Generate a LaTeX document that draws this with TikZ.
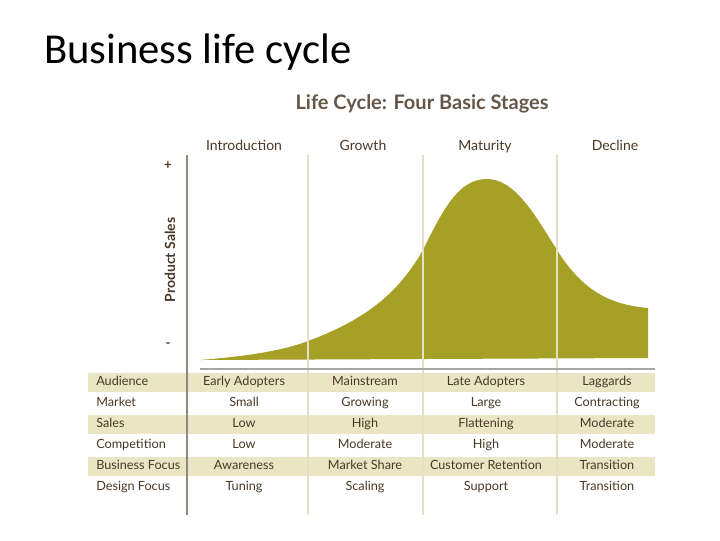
\documentclass[tikz,border=0pt]{standalone}
\usepackage{fontspec}
\setmainfont{Carlito}
\newfontfamily\gil{Lato}
\definecolor{olive}{HTML}{A6A026}
\definecolor{band}{HTML}{EAE6C4}
\definecolor{brn}{HTML}{4A3826}
\definecolor{grid}{HTML}{E4E0C8}
\begin{document}
\begin{tikzpicture}[x=0.75pt,y=-0.75pt,
 cell/.style={font=\gil\fontsize{9.5}{10}\selectfont,text=brn,inner sep=0pt,text height=7pt,text depth=2pt},
 lab/.style={cell,anchor=west},
 hdr/.style={font=\gil\fontsize{10.5}{12}\selectfont,text=brn,inner sep=0pt,text height=8pt,text depth=2pt}]
\useasboundingbox (0,0) rectangle (720,540);
\node[anchor=west,font=\fontsize{32}{36}\selectfont,inner sep=0pt] (t) at (44,52) {Business life cycle};
\node[font=\gil\bfseries\fontsize{15}{17}\selectfont,text=brn!85,inner sep=0pt] (tt) at (422,104) {Life Cycle: Four Basic Stages};
% bands
\foreach \y in {382,424,466} \fill[band] (88,\y-9.5) rectangle (655,\y+9.5);
% curve
\fill[olive] (200,360) .. controls (250,356) and (285,350) .. (308,341)
 .. controls (370,318) and (400,290) .. (423,250)
 .. controls (445,205) and (460,179) .. (487,179)
 .. controls (515,179) and (535,215) .. (557,250)
 .. controls (585,295) and (615,305) .. (648,308) -- (648,358) -- cycle;
% grid lines
\foreach \x in {308,423,557} \draw[grid,line width=1pt] (\x,155) -- (\x,515);
\draw[gray!70,line width=0.8pt] (200,369) -- (655,369);
\draw[brn!60,line width=0.8pt] (187,155) -- (187,515);
\node[hdr] (h1) at (244,146) {Introduction};
\node[hdr] (h2) at (363,146) {Growth};
\node[hdr] (h3) at (485,146) {Maturity};
\node[hdr] (h4) at (615,146) {Decline};
\node[hdr,font=\gil\bfseries\fontsize{10}{12}\selectfont] (pl) at (168,165) {+};
\node[hdr,font=\gil\bfseries\fontsize{10}{12}\selectfont] (mi) at (168,343) {-};
\node[font=\gil\bfseries\fontsize{10.5}{12}\selectfont,text=brn,inner sep=0pt,rotate=90] (ps) at (170,260) {Product Sales};
\foreach \y/\l/\a/\b/\c/\d [count=\i] in {
 382/Audience/Early Adopters/Mainstream/Late Adopters/Laggards,
 403/Market/Small/Growing/Large/Contracting,
 424/Sales/Low/High/Flattening/Moderate,
 445/Competition/Low/Moderate/High/Moderate,
 466/Business Focus/Awareness/Market Share/Customer Retention/Transition,
 487/Design Focus/Tuning/Scaling/Support/Transition}{
 \node[lab] (r\i) at (96,\y) {\l};
 \node[cell] (a\i) at (244,\y) {\a};
 \node[cell] (b\i) at (365,\y) {\b};
 \node[cell] (c\i) at (486,\y) {\c};
 \node[cell] (d\i) at (607,\y) {\d};
}
\end{tikzpicture}
\end{document}
